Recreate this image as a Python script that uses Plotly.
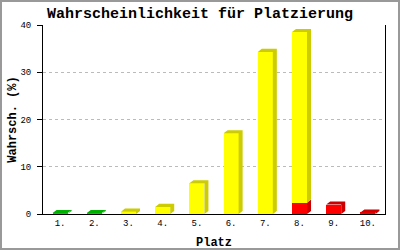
import plotly.graph_objects as go

categories = [1, 2, 3, 4, 5, 6, 7, 8, 9, 10]
tick_labels = ["1.", "2.", "3.", "4.", "5.", "6.", "7.", "8.", "9.", "10."]
green_vals = [0.2, 0.2, 0, 0, 0, 0, 0, 0, 0, 0]
red_vals = [0, 0, 0, 0, 0, 0, 0, 2.4, 2.0, 0.3]
yellow_vals = [0, 0, 0.5, 1.5, 6.5, 17.1, 34.3, 36.1, 0, 0]

series = [
    ("green", green_vals, "#00CC00", "#00B000"),
    ("red", red_vals, "#FF0000", "#CC0000"),
    ("yellow", yellow_vals, "#FFFF00", "#CCCC00"),
]

W = 0.44     # front width (x units)
DX = 0.117   # depth in x units
DY = 0.65    # depth in y units

fig = go.Figure()

base = [0.0] * len(categories)
tops = [sum(s[1][i] for s in series) for i in range(len(categories))]
face_traces = []
for name, vals, front, side in series:
    xs, ys = [], []
    for i, c in enumerate(categories):
        v = vals[i]
        if v <= 0:
            continue
        y0 = base[i]
        y1 = y0 + v
        xr = c + W / 2
        xl = c - W / 2
        xs += [xr, xr + DX, xr + DX, xr, xr, None]
        ys += [y0, y0 + DY, y1 + DY, y1, y0, None]
        if abs(y1 - tops[i]) < 1e-9:
            xs += [xl, xl + DX, xr + DX, xr, xl, None]
            ys += [y1, y1 + DY, y1 + DY, y1, y1, None]
    face_traces.append(go.Scatter(x=xs, y=ys, mode="lines", fill="toself",
                                  fillcolor=side, line=dict(width=0, color=side),
                                  hoverinfo="skip", showlegend=False))
    base = [base[i] + vals[i] for i in range(len(categories))]

for name, vals, front, side in series:
    fig.add_trace(go.Bar(x=categories, y=vals, width=W, marker=dict(color=front, line=dict(width=0)),
                         showlegend=False, hoverinfo="skip"))
for t in face_traces:
    fig.add_trace(t)

mono = "Liberation Mono"
fig.update_layout(
    width=400, height=250, barmode="stack",
    margin=dict(l=43, r=15, t=25, b=36, autoexpand=False),
    paper_bgcolor="white", plot_bgcolor="white",
    showlegend=False, hovermode=False,
    title=dict(text="Wahrscheinlichkeit für Platzierung", x=0.5, xanchor="center",
               y=1 - 13 / 250, yanchor="middle", yref="container",
               font=dict(family=mono, size=15, color="black", weight="bold")),
    xaxis=dict(range=[0.5, 10.5], tickvals=categories, ticktext=tick_labels, automargin=False,
               showgrid=False, zeroline=False, showline=True, linecolor="black", linewidth=1,
               ticks="", tickfont=dict(family=mono, size=9, color="black"),
               title=dict(text="Platz", font=dict(family=mono, size=12, color="black", weight="bold"),
                          standoff=10)),
    yaxis=dict(range=[0, 40], tickvals=[0, 10, 20, 30, 40], automargin=False,
               showgrid=True, gridcolor="#BBBBBB", griddash="dot", gridwidth=1,
               zeroline=False, showline=True, linecolor="black", linewidth=1, mirror=True,
               ticks="outside", ticklen=5, tickcolor="black", ticklabelstandoff=4,
               tickfont=dict(family=mono, size=9, color="black"),
               title=dict(text="Wahrsch. (%)", font=dict(family=mono, size=12, color="black", weight="bold"),
                          standoff=0)),
    shapes=[dict(type="rect", xref="paper", yref="paper",
                 x0=(1 - 43) / 342, x1=(399 - 43) / 342,
                 y0=(214 - 249) / 189, y1=(214 - 1) / 189,
                 line=dict(color="#999999", width=2), layer="above")],
)

fig.write_html("out.html")
